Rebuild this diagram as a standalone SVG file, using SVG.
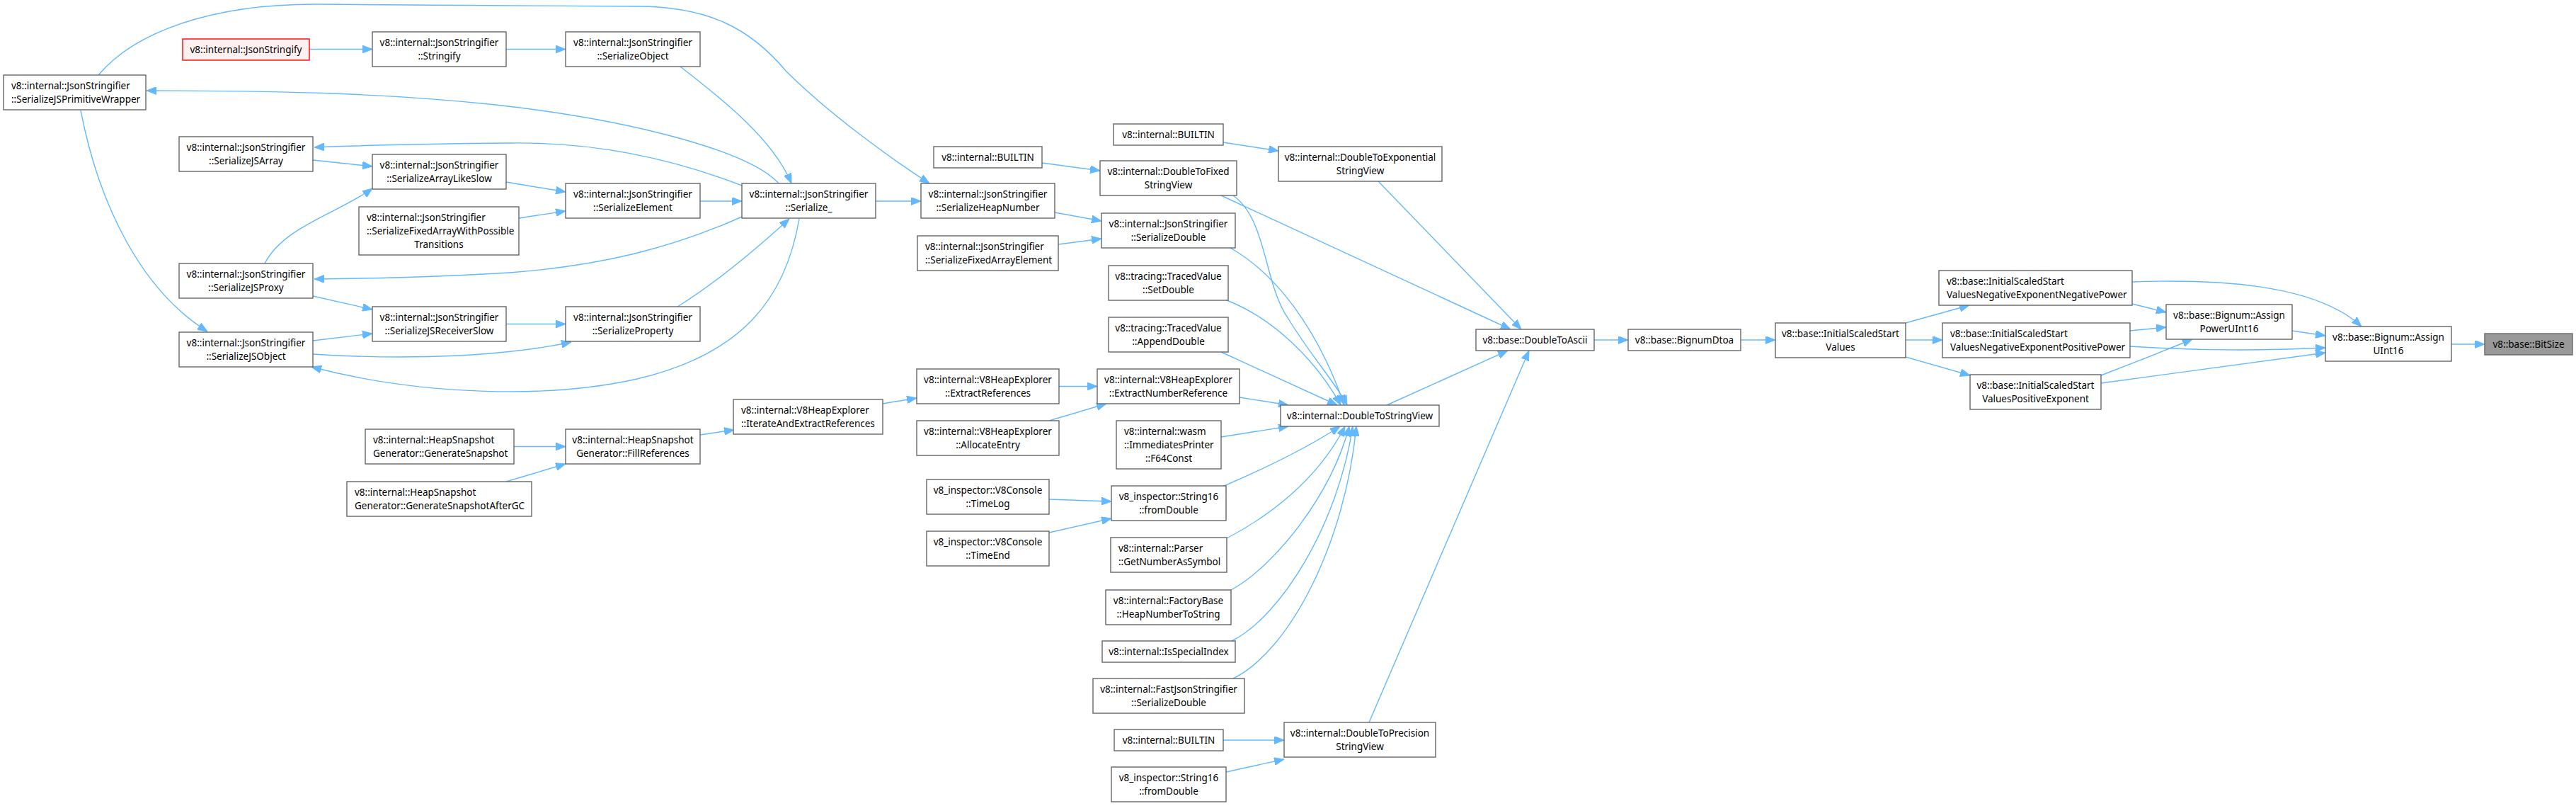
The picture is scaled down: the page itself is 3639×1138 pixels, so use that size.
<svg xmlns="http://www.w3.org/2000/svg" width="3639" height="1138" viewBox="0 0 3639 1138">
<style>
.n rect{fill:#fff;stroke:#666;stroke-width:1.4}
.n text{font-family:"Noto Sans","Liberation Sans",sans-serif;font-size:13.5px;fill:#000}
.c{text-anchor:middle}
#edges path{fill:none;stroke:#63b8ff;stroke-width:1.4;marker-end:url(#a)}
#n_jsonstringify rect{fill:#fff0f0;stroke:#f00}
#n_bitsize rect{fill:#999;stroke:#666}
</style>
<defs>
<marker id="a" markerWidth="14" markerHeight="11" refX="14" refY="5.5" orient="auto" markerUnits="userSpaceOnUse"><path d="M0,0 L14,5.5 L0,11 z" fill="#63b8ff" stroke="#63b8ff"/></marker>
</defs>
<rect width="3639" height="1138" fill="#fff"/>
<g id="edges">
<path d="M437,69.5 L526,69.5"/>
<path d="M715,69.5 L799,69.5"/>
<path d="M961,94 C1000,125 1090,190 1118,259"/>
<path d="M139,106 C190,45 300,5 450,6 C600,7 800,9 900,9 C1000,9 1060,40 1110,100 C1170,160 1260,225 1313,259"/>
<path d="M1100,259 C1060,215 900,170 700,148 C550,132 400,128 207,128"/>
<path d="M1048,262 C960,228 850,200 720,202 C600,203 520,205 444,208"/>
<path d="M442,226 L526,235"/>
<path d="M715,257 L799,271"/>
<path d="M733,308 L799,298"/>
<path d="M989,284 L1048,284"/>
<path d="M1048,306 C950,350 850,375 720,385 C600,392 520,393 444,394"/>
<path d="M374,372 C400,320 480,300 526,266"/>
<path d="M442,418 L526,437"/>
<path d="M442,481 L526,471"/>
<path d="M715,457.5 L799,457.5"/>
<path d="M442,500 C520,505 680,510 807,483"/>
<path d="M957,433 C1010,400 1070,350 1115,309"/>
<path d="M1129,309 C1110,420 1050,500 900,535 C780,562 600,560 440,518"/>
<path d="M114,156 C140,290 200,410 293,468"/>
<path d="M1237,284 L1301,284"/>
<path d="M1472,230 L1554,241"/>
<path d="M1728,201 L1806,213"/>
<path d="M1490,300 L1556,312"/>
<path d="M1495,345 L1556,337"/>
<path d="M1725,276 L2134,465"/>
<path d="M1742,276 C1790,310 1785,400 1820,450 C1850,500 1890,545 1903,572"/>
<path d="M1947,256 L2149,465"/>
<path d="M1738,350 C1800,385 1860,460 1899,572"/>
<path d="M1733,424 C1800,450 1860,510 1894,572"/>
<path d="M1725,497 L1889,572"/>
<path d="M1496,545.5 L1550,545.5"/>
<path d="M1751,561 L1820,572"/>
<path d="M1247,570 L1295,562"/>
<path d="M989,614 L1037,607"/>
<path d="M726,630.5 L799,630.5"/>
<path d="M715,680 L799,655"/>
<path d="M1482,594 L1563,570"/>
<path d="M1725,617 L1820,602"/>
<path d="M1482,705 L1570,708"/>
<path d="M1482,752 L1570,732"/>
<path d="M1727,687 C1790,660 1850,630 1893,602"/>
<path d="M1733,760 C1790,730 1860,680 1900,602"/>
<path d="M1739,833 C1800,800 1880,700 1906,602"/>
<path d="M1740,905 C1810,870 1890,740 1911,602"/>
<path d="M1742,958 C1820,920 1900,770 1916,602"/>
<path d="M1728,1045 L1814,1045"/>
<path d="M1732,1090 L1814,1072"/>
<path d="M1934,1020 L2160,495"/>
<path d="M1959,572 L2130,495"/>
<path d="M2252,480 L2300,480"/>
<path d="M2459,480 L2508,480"/>
<path d="M2692,456 L2782,431"/>
<path d="M2692,480 L2744,480"/>
<path d="M2692,504 L2783,530"/>
<path d="M3012,429 L3060,441"/>
<path d="M3012,398 C3130,394 3270,400 3336,461"/>
<path d="M3009,467 L3060,462"/>
<path d="M3009,489 C3100,495 3200,495 3285,491"/>
<path d="M2968,530 C3020,510 3070,490 3097,479"/>
<path d="M2968,541 L3285,498"/>
<path d="M3238,467 L3285,474"/>
<path d="M3463,486 L3510,486"/>
</g>
<g id="n_pw" class="n"><rect x="5" y="106" width="201" height="49"/><text x="16" y="125.5">v8::internal::JsonStringifier</text><text x="16" y="144.5">::SerializeJSPrimitiveWrapper</text></g>
<g id="n_jsonstringify" class="n"><rect x="258" y="55" width="179" height="30"/><text class="c" x="347.5" y="75">v8::internal::JsonStringify</text></g>
<g id="n_jsarray" class="n"><rect x="253" y="193" width="189" height="49"/><text class="c" x="347.5" y="212.5">v8::internal::JsonStringifier</text><text class="c" x="347.5" y="231.5">::SerializeJSArray</text></g>
<g id="n_jsproxy" class="n"><rect x="253" y="372" width="189" height="49"/><text class="c" x="347.5" y="391.5">v8::internal::JsonStringifier</text><text class="c" x="347.5" y="410.5">::SerializeJSProxy</text></g>
<g id="n_jsobject" class="n"><rect x="253" y="469" width="189" height="49"/><text class="c" x="347.5" y="488.5">v8::internal::JsonStringifier</text><text class="c" x="347.5" y="507.5">::SerializeJSObject</text></g>
<g id="n_stringify" class="n"><rect x="526" y="45" width="189" height="49"/><text class="c" x="620.5" y="64.5">v8::internal::JsonStringifier</text><text class="c" x="620.5" y="83.5">::Stringify</text></g>
<g id="n_arraylikeslow" class="n"><rect x="526" y="218" width="189" height="49"/><text class="c" x="620.5" y="237.5">v8::internal::JsonStringifier</text><text class="c" x="620.5" y="256.5">::SerializeArrayLikeSlow</text></g>
<g id="n_fixedarray" class="n"><rect x="507" y="292" width="226" height="68"/><text x="518" y="311.5">v8::internal::JsonStringifier</text><text x="518" y="330.5">::SerializeFixedArrayWithPossible</text><text class="c" x="620" y="349.5">Transitions</text></g>
<g id="n_receiverslow" class="n"><rect x="526" y="433" width="189" height="49"/><text class="c" x="620.5" y="452.5">v8::internal::JsonStringifier</text><text class="c" x="620.5" y="471.5">::SerializeJSReceiverSlow</text></g>
<g id="n_gensnap" class="n"><rect x="516" y="606" width="210" height="49"/><text x="527" y="625.5">v8::internal::HeapSnapshot</text><text x="527" y="644.5">Generator::GenerateSnapshot</text></g>
<g id="n_gensnapgc" class="n"><rect x="490" y="680" width="261" height="49"/><text x="501" y="699.5">v8::internal::HeapSnapshot</text><text x="501" y="718.5">Generator::GenerateSnapshotAfterGC</text></g>
<g id="n_serobject" class="n"><rect x="799" y="45" width="190" height="49"/><text class="c" x="894" y="64.5">v8::internal::JsonStringifier</text><text class="c" x="894" y="83.5">::SerializeObject</text></g>
<g id="n_serelement" class="n"><rect x="799" y="259" width="190" height="49"/><text class="c" x="894" y="278.5">v8::internal::JsonStringifier</text><text class="c" x="894" y="297.5">::SerializeElement</text></g>
<g id="n_serproperty" class="n"><rect x="799" y="433" width="190" height="49"/><text class="c" x="894" y="452.5">v8::internal::JsonStringifier</text><text class="c" x="894" y="471.5">::SerializeProperty</text></g>
<g id="n_fillrefs" class="n"><rect x="799" y="606" width="190" height="49"/><text class="c" x="894" y="625.5">v8::internal::HeapSnapshot</text><text class="c" x="894" y="644.5">Generator::FillReferences</text></g>
<g id="n_serialize" class="n"><rect x="1048" y="259" width="189" height="49"/><text class="c" x="1142.5" y="278.5">v8::internal::JsonStringifier</text><text class="c" x="1142.5" y="297.5">::Serialize_</text></g>
<g id="n_iterate" class="n"><rect x="1036" y="564" width="211" height="49"/><text x="1047" y="583.5">v8::internal::V8HeapExplorer</text><text x="1047" y="602.5">::IterateAndExtractReferences</text></g>
<g id="n_builtin1" class="n"><rect x="1319" y="207" width="153" height="30"/><text class="c" x="1395.5" y="227">v8::internal::BUILTIN</text></g>
<g id="n_heapnumber" class="n"><rect x="1301" y="259" width="189" height="49"/><text class="c" x="1395.5" y="278.5">v8::internal::JsonStringifier</text><text class="c" x="1395.5" y="297.5">::SerializeHeapNumber</text></g>
<g id="n_fixedarrayelem" class="n"><rect x="1296" y="333" width="199" height="49"/><text x="1307" y="352.5">v8::internal::JsonStringifier</text><text x="1307" y="371.5">::SerializeFixedArrayElement</text></g>
<g id="n_extractrefs" class="n"><rect x="1295" y="521" width="201" height="49"/><text class="c" x="1395.5" y="540.5">v8::internal::V8HeapExplorer</text><text class="c" x="1395.5" y="559.5">::ExtractReferences</text></g>
<g id="n_allocentry" class="n"><rect x="1295" y="594" width="201" height="49"/><text class="c" x="1395.5" y="613.5">v8::internal::V8HeapExplorer</text><text class="c" x="1395.5" y="632.5">::AllocateEntry</text></g>
<g id="n_timelog" class="n"><rect x="1309" y="677" width="173" height="49"/><text class="c" x="1395.5" y="696.5">v8_inspector::V8Console</text><text class="c" x="1395.5" y="715.5">::TimeLog</text></g>
<g id="n_timeend" class="n"><rect x="1309" y="750" width="173" height="49"/><text class="c" x="1395.5" y="769.5">v8_inspector::V8Console</text><text class="c" x="1395.5" y="788.5">::TimeEnd</text></g>
<g id="n_builtin2" class="n"><rect x="1573" y="175" width="155" height="30"/><text class="c" x="1650.5" y="195">v8::internal::BUILTIN</text></g>
<g id="n_dtfixed" class="n"><rect x="1554" y="227" width="193" height="49"/><text class="c" x="1650.5" y="246.5">v8::internal::DoubleToFixed</text><text class="c" x="1650.5" y="265.5">StringView</text></g>
<g id="n_serdouble" class="n"><rect x="1556" y="301" width="189" height="49"/><text class="c" x="1650.5" y="320.5">v8::internal::JsonStringifier</text><text class="c" x="1650.5" y="339.5">::SerializeDouble</text></g>
<g id="n_setdouble" class="n"><rect x="1566" y="375" width="169" height="49"/><text class="c" x="1650.5" y="394.5">v8::tracing::TracedValue</text><text class="c" x="1650.5" y="413.5">::SetDouble</text></g>
<g id="n_appenddouble" class="n"><rect x="1566" y="448" width="169" height="49"/><text class="c" x="1650.5" y="467.5">v8::tracing::TracedValue</text><text class="c" x="1650.5" y="486.5">::AppendDouble</text></g>
<g id="n_extractnum" class="n"><rect x="1550" y="521" width="201" height="49"/><text class="c" x="1650.5" y="540.5">v8::internal::V8HeapExplorer</text><text class="c" x="1650.5" y="559.5">::ExtractNumberReference</text></g>
<g id="n_f64const" class="n"><rect x="1577" y="594" width="148" height="68"/><text x="1588" y="613.5">v8::internal::wasm</text><text x="1588" y="632.5">::ImmediatesPrinter</text><text class="c" x="1651" y="651.5">::F64Const</text></g>
<g id="n_fromdouble1" class="n"><rect x="1570" y="686" width="162" height="49"/><text class="c" x="1651" y="705.5">v8_inspector::String16</text><text class="c" x="1651" y="724.5">::fromDouble</text></g>
<g id="n_getnumber" class="n"><rect x="1569" y="759" width="164" height="49"/><text x="1580" y="778.5">v8::internal::Parser</text><text x="1580" y="797.5">::GetNumberAsSymbol</text></g>
<g id="n_heapnumtostr" class="n"><rect x="1562" y="833" width="177" height="49"/><text class="c" x="1650.5" y="852.5">v8::internal::FactoryBase</text><text class="c" x="1650.5" y="871.5">::HeapNumberToString</text></g>
<g id="n_isspecial" class="n"><rect x="1557" y="905" width="188" height="30"/><text class="c" x="1651" y="925">v8::internal::IsSpecialIndex</text></g>
<g id="n_fastjson" class="n"><rect x="1544" y="958" width="214" height="49"/><text class="c" x="1651" y="977.5">v8::internal::FastJsonStringifier</text><text class="c" x="1651" y="996.5">::SerializeDouble</text></g>
<g id="n_builtin3" class="n"><rect x="1574" y="1030" width="154" height="30"/><text class="c" x="1651" y="1050">v8::internal::BUILTIN</text></g>
<g id="n_fromdouble2" class="n"><rect x="1570" y="1083" width="162" height="49"/><text class="c" x="1651" y="1102.5">v8_inspector::String16</text><text class="c" x="1651" y="1121.5">::fromDouble</text></g>
<g id="n_dtexp" class="n"><rect x="1806" y="207" width="231" height="49"/><text class="c" x="1921.5" y="226.5">v8::internal::DoubleToExponential</text><text class="c" x="1921.5" y="245.5">StringView</text></g>
<g id="n_dtsv" class="n"><rect x="1809" y="572" width="224" height="30"/><text class="c" x="1921" y="592">v8::internal::DoubleToStringView</text></g>
<g id="n_dtprec" class="n"><rect x="1814" y="1020" width="214" height="49"/><text class="c" x="1921" y="1039.5">v8::internal::DoubleToPrecision</text><text class="c" x="1921" y="1058.5">StringView</text></g>
<g id="n_dtoascii" class="n"><rect x="2085" y="465" width="167" height="30"/><text class="c" x="2168.5" y="485">v8::base::DoubleToAscii</text></g>
<g id="n_bignumdtoa" class="n"><rect x="2300" y="465" width="159" height="30"/><text class="c" x="2379.5" y="485">v8::base::BignumDtoa</text></g>
<g id="n_issv" class="n"><rect x="2508" y="456" width="184" height="49"/><text class="c" x="2600" y="475.5">v8::base::InitialScaledStart</text><text class="c" x="2600" y="494.5">Values</text></g>
<g id="n_negneg" class="n"><rect x="2739" y="382" width="273" height="49"/><text x="2750" y="401.5">v8::base::InitialScaledStart</text><text x="2750" y="420.5">ValuesNegativeExponentNegativePower</text></g>
<g id="n_negpos" class="n"><rect x="2744" y="456" width="265" height="49"/><text x="2755" y="475.5">v8::base::InitialScaledStart</text><text x="2755" y="494.5">ValuesNegativeExponentPositivePower</text></g>
<g id="n_posexp" class="n"><rect x="2783" y="529" width="185" height="49"/><text class="c" x="2875.5" y="548.5">v8::base::InitialScaledStart</text><text class="c" x="2875.5" y="567.5">ValuesPositiveExponent</text></g>
<g id="n_assignpow" class="n"><rect x="3060" y="430" width="178" height="49"/><text class="c" x="3149" y="449.5">v8::base::Bignum::Assign</text><text class="c" x="3149" y="468.5">PowerUInt16</text></g>
<g id="n_assignu16" class="n"><rect x="3285" y="461" width="178" height="49"/><text class="c" x="3374" y="480.5">v8::base::Bignum::Assign</text><text class="c" x="3374" y="499.5">UInt16</text></g>
<g id="n_bitsize" class="n"><rect x="3510" y="471" width="124" height="30"/><text class="c" x="3572" y="491">v8::base::BitSize</text></g>
</svg>
